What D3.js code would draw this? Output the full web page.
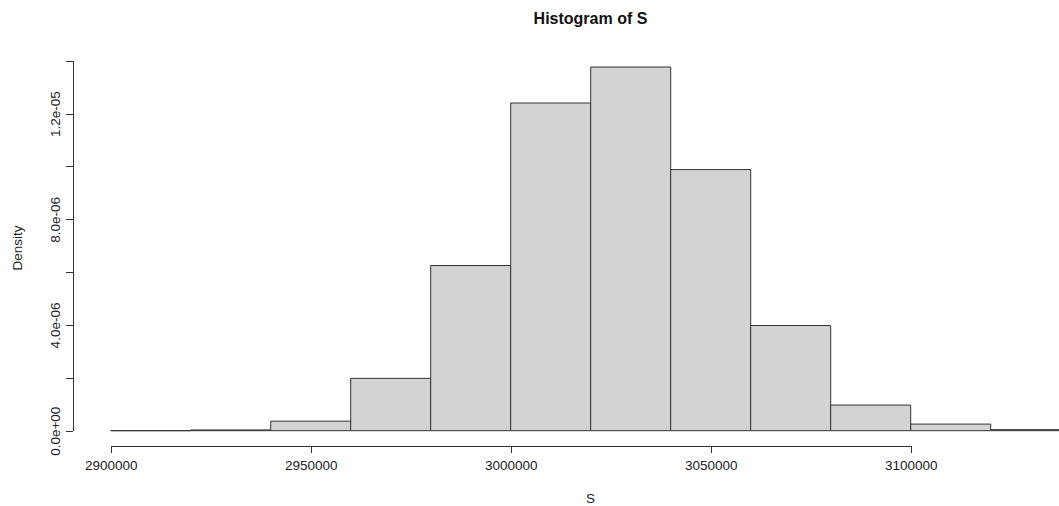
<!DOCTYPE html>
<html lang="en">
<head>
<meta charset="utf-8">
<title>Histogram of S</title>
<style>
  body { margin: 0; background: #fff; }
  svg { display: block; font-family: "Liberation Sans", Arial, sans-serif; }
  .axis path, .axis line { stroke: #333; shape-rendering: crispEdges; }
  .axis text { fill: #222; font-size: 13.5px; }
</style>
</head>
<body>
<svg width="1059" height="506"></svg>
<script src="https://d3js.org/d3.v7.min.js"></script>
<script>
  // bin edges (width 20000) and the density
  var binStarts = [2900000, 2920000, 2940000, 2960000, 2980000, 3000000,
                   3020000, 3040000, 3060000, 3080000, 3100000, 3120000];
  var binWidth = 20000;
  var densities = [0, 0.03e-6, 0.36e-6, 1.98e-6, 6.25e-6, 12.4e-6,
                   13.76e-6, 9.88e-6, 3.98e-6, 0.97e-6, 0.25e-6, 0.04e-6];

  var xTicks = [2900000, 2950000, 3000000, 3050000, 3100000];
  var yTicks = [0, 2e-6, 4e-6, 6e-6, 8e-6, 10e-6, 12e-6, 14e-6];
  var yLabels = ["0.0e+00", "", "4.0e-06", "", "8.0e-06", "", "1.2e-05", ""];

  var svg = d3.select("svg");

  var x = d3.scaleLinear()
    .domain([2900000, 3100000])
    .range([110.7, 910.7]);
  var y = d3.scaleLinear()
    .domain([0, 1.4e-5])
    .range([430.7, 60.7]);

  var bins = binStarts.map(function(s, i) {
    return { x0: s, x1: s + binWidth, d: densities[i] };
  });

  // paths instead of rects so an empty bin still shows its outline
  svg.append("g")
    .selectAll("path")
    .data(bins)
    .enter()
    .append("path")
      .attr("d", function(d) {
        var x0 = x(d.x0), x1 = x(d.x1), y0 = y(0), y1 = y(d.d);
        return "M" + x0 + "," + y0 + "L" + x0 + "," + y1 +
               "L" + x1 + "," + y1 + "L" + x1 + "," + y0 + "Z";
      })
      .attr("fill", "#d3d3d3")
      .attr("stroke", "#333")
      .attr("stroke-width", 1);

  // x axis
  var gx = svg.append("g")
    .attr("class", "axis")
    .attr("transform", "translate(0,445.5)")
    .call(d3.axisBottom(x)
      .tickValues(xTicks)
      .tickSize(7)
      .tickSizeOuter(0)
      .tickPadding(8)
      .tickFormat(d3.format("d")));
  gx.selectAll("text").attr("dy", "0.71em");

  // y axis, labels parallel to the axis like R
  var gy = svg.append("g")
    .attr("class", "axis")
    .attr("transform", "translate(72.5,0)")
    .call(d3.axisLeft(y)
      .tickValues(yTicks)
      .tickSize(7)
      .tickSizeOuter(0)
      .tickFormat(function(d, i) { return yLabels[i]; }));
  gy.selectAll("text")
    .attr("transform", "rotate(-90)")
    .attr("x", 0)
    .attr("y", -12.5)
    .attr("dy", 0)
    .attr("text-anchor", "middle");

  svg.append("text")
    .attr("x", 590.5)
    .attr("y", 24)
    .attr("text-anchor", "middle")
    .attr("font-weight", "bold")
    .attr("font-size", "16px")
    .attr("fill", "#111")
    .text("Histogram of S");

  svg.append("text")
    .attr("x", 590.5)
    .attr("y", 503)
    .attr("text-anchor", "middle")
    .attr("font-size", "13.5px")
    .attr("fill", "#222")
    .text("S");

  svg.append("text")
    .attr("transform", "translate(22,248) rotate(-90)")
    .attr("text-anchor", "middle")
    .attr("font-size", "13.5px")
    .attr("fill", "#222")
    .text("Density");
</script>
</body>
</html>
